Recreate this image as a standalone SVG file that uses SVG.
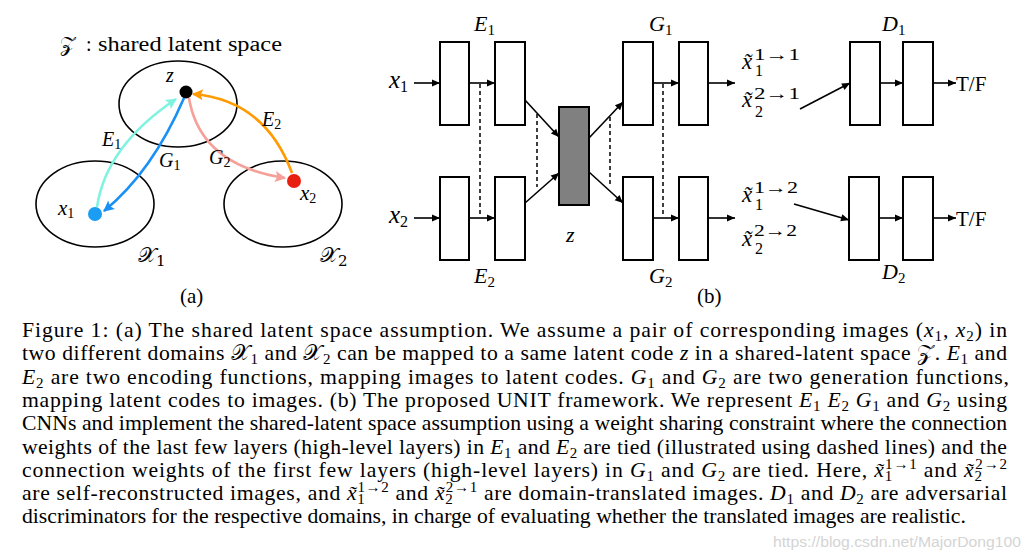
<svg xmlns="http://www.w3.org/2000/svg" width="1032" height="560" viewBox="0 0 1032 560">
<style>
text{font-family:"Liberation Serif","DejaVu Serif",serif;fill:#000}
.i{font-style:italic}
.n{font-style:normal}
.cal{font-family:"DejaVu Serif","DejaVu Sans","Liberation Serif",serif;font-style:normal}
.box{fill:#fff;stroke:#000;stroke-width:2}
.ln{fill:none;stroke:#000;stroke-width:1.6}
.dash{fill:none;stroke:#000;stroke-width:1.5;stroke-dasharray:4 3}
.ell{fill:none;stroke:#000;stroke-width:1.6}
.cap{font-size:21.7px}
</style>
<defs>
<marker id="ah" viewBox="0 0 10 10" refX="10" refY="5" markerWidth="9" markerHeight="8" markerUnits="userSpaceOnUse" orient="auto"><path d="M0,0.5 L10,5 L0,9.5 z" fill="#000"/></marker>
<marker id="aCy" viewBox="0 0 10 10" refX="9" refY="5" markerWidth="12" markerHeight="11" markerUnits="userSpaceOnUse" orient="auto"><path d="M0,0 L10,5 L0,10 L2,5 z" fill="#7ff3e0"/></marker>
<marker id="aBl" viewBox="0 0 10 10" refX="9" refY="5" markerWidth="12" markerHeight="11" markerUnits="userSpaceOnUse" orient="auto"><path d="M0,0 L10,5 L0,10 L2,5 z" fill="#1890f5"/></marker>
<marker id="aSa" viewBox="0 0 10 10" refX="9" refY="5" markerWidth="12" markerHeight="11" markerUnits="userSpaceOnUse" orient="auto"><path d="M0,0 L10,5 L0,10 L2,5 z" fill="#f5a098"/></marker>
<marker id="aOr" viewBox="0 0 10 10" refX="9" refY="5" markerWidth="12" markerHeight="11" markerUnits="userSpaceOnUse" orient="auto"><path d="M0,0 L10,5 L0,10 L2,5 z" fill="#ff9a00"/></marker>
</defs>

<!-- Part (a) -->
<g id="a-title"><text x="60" y="51" font-size="20"><tspan class="cal">𝒵</tspan><tspan x="86">:</tspan><tspan x="98" textLength="184" lengthAdjust="spacingAndGlyphs">shared latent space</tspan></text></g>
<g id="space-Z"><ellipse class="ell" cx="178" cy="104" rx="59" ry="43"/></g>
<g id="space-X1"><ellipse class="ell" cx="95" cy="204" rx="59" ry="43"/><text x="138" y="262" font-size="21" class="cal">𝒳<tspan font-size="15" dy="4">1</tspan></text></g>
<g id="space-X2"><ellipse class="ell" cx="283" cy="204" rx="59" ry="43"/><text x="320" y="262" font-size="21" class="cal">𝒳<tspan font-size="15" dy="4">2</tspan></text></g>
<g id="a-connectors">
<path d="M97,207 Q106,146 176,99" fill="none" stroke="#7ff3e0" stroke-width="2.6" marker-end="url(#aCy)"/>
<path d="M184,98 Q152,172 104,211" fill="none" stroke="#1890f5" stroke-width="2.6" marker-end="url(#aBl)"/>
<path d="M189,98 Q200,165 285,178" fill="none" stroke="#f5a098" stroke-width="2.6" marker-end="url(#aSa)"/>
<path d="M292,173 Q265,100 193,94" fill="none" stroke="#ff9a00" stroke-width="2.6" marker-end="url(#aOr)"/>
</g>
<g id="node-z"><circle cx="186" cy="92" r="6.5" fill="#000"/><text x="166" y="82" font-size="20" class="i">z</text></g>
<g id="node-x1"><circle cx="95" cy="214" r="7" fill="#1a9df2"/><text x="58" y="215" font-size="21" class="i">x<tspan font-size="14" dy="3" class="n">1</tspan></text></g>
<g id="node-x2"><circle cx="294" cy="181" r="7" fill="#e82010"/><text x="300" y="200" font-size="21" class="i">x<tspan font-size="14" dy="3" class="n">2</tspan></text></g>
<g id="a-labels">
<text x="102" y="146" font-size="20" class="i">E<tspan font-size="14" dy="3" class="n">1</tspan></text>
<text x="159" y="167" font-size="20" class="i">G<tspan font-size="14" dy="3" class="n">1</tspan></text>
<text x="209" y="164" font-size="20" class="i">G<tspan font-size="14" dy="3" class="n">2</tspan></text>
<text x="262" y="126" font-size="20" class="i">E<tspan font-size="14" dy="3" class="n">2</tspan></text>
<text x="180" y="303" font-size="21">(a)</text>
</g>

<!-- Part (b) -->
<g id="E1-l1"><rect class="box" x="440" y="42" width="29" height="83"/></g>
<g id="E1-l2"><rect class="box" x="495" y="42" width="30" height="83"/></g>
<g id="E2-l1"><rect class="box" x="440" y="177" width="29" height="83"/></g>
<g id="E2-l2"><rect class="box" x="495" y="177" width="30" height="83"/></g>
<g id="z-code"><rect x="559" y="107" width="30" height="98" fill="#808080" stroke="#000" stroke-width="2"/><text x="566" y="242" font-size="22" class="i">z</text></g>
<g id="G1-l1"><rect class="box" x="623" y="42" width="30" height="83"/></g>
<g id="G1-l2"><rect class="box" x="679" y="42" width="29" height="83"/></g>
<g id="G2-l1"><rect class="box" x="623" y="177" width="30" height="83"/></g>
<g id="G2-l2"><rect class="box" x="679" y="177" width="29" height="83"/></g>
<g id="D1-l1"><rect class="box" x="850" y="42" width="30" height="83"/></g>
<g id="D1-l2"><rect class="box" x="903" y="42" width="30" height="83"/></g>
<g id="D2-l1"><rect class="box" x="849" y="177" width="30" height="83"/></g>
<g id="D2-l2"><rect class="box" x="903" y="177" width="30" height="83"/></g>

<g id="b-connectors">
<line class="ln" x1="414" y1="83" x2="440" y2="83" marker-end="url(#ah)"/>
<line class="ln" x1="414" y1="218" x2="440" y2="218" marker-end="url(#ah)"/>
<line class="ln" x1="469" y1="83" x2="495" y2="83" marker-end="url(#ah)"/>
<line class="ln" x1="469" y1="218" x2="495" y2="218" marker-end="url(#ah)"/>
<line class="ln" x1="525" y1="100" x2="559" y2="137" marker-end="url(#ah)"/>
<line class="ln" x1="525" y1="203" x2="559" y2="173" marker-end="url(#ah)"/>
<line class="ln" x1="589" y1="138" x2="623" y2="102" marker-end="url(#ah)"/>
<line class="ln" x1="589" y1="172" x2="623" y2="203" marker-end="url(#ah)"/>
<line class="ln" x1="653" y1="83" x2="679" y2="83" marker-end="url(#ah)"/>
<line class="ln" x1="653" y1="218" x2="679" y2="218" marker-end="url(#ah)"/>
<line class="ln" x1="708" y1="83" x2="735" y2="83" marker-end="url(#ah)"/>
<line class="ln" x1="708" y1="218" x2="735" y2="218" marker-end="url(#ah)"/>
<line class="ln" x1="800" y1="109" x2="850" y2="83" marker-end="url(#ah)"/>
<line class="ln" x1="794" y1="204" x2="849" y2="220" marker-end="url(#ah)"/>
<line class="ln" x1="880" y1="83" x2="903" y2="83" marker-end="url(#ah)"/>
<line class="ln" x1="879" y1="218" x2="903" y2="218" marker-end="url(#ah)"/>
<line class="ln" x1="933" y1="83" x2="956" y2="83" marker-end="url(#ah)"/>
<line class="ln" x1="933" y1="218" x2="956" y2="218" marker-end="url(#ah)"/>
<line class="dash" x1="480" y1="84" x2="480" y2="217"/>
<line class="dash" x1="537" y1="114" x2="537" y2="187"/>
<line class="dash" x1="610" y1="117" x2="610" y2="187"/>
<line class="dash" x1="663" y1="84" x2="663" y2="217"/>
</g>

<g id="b-labels">
<text x="389" y="88" font-size="25" class="i">x<tspan font-size="16" dy="4" class="n">1</tspan></text>
<text x="389" y="223" font-size="25" class="i">x<tspan font-size="16" dy="4" class="n">2</tspan></text>
<text x="474" y="31" font-size="22" class="i">E<tspan font-size="15" dy="4" class="n">1</tspan></text>
<text x="474" y="283" font-size="22" class="i">E<tspan font-size="15" dy="4" class="n">2</tspan></text>
<text x="649" y="31" font-size="22" class="i">G<tspan font-size="15" dy="4" class="n">1</tspan></text>
<text x="649" y="283" font-size="22" class="i">G<tspan font-size="15" dy="4" class="n">2</tspan></text>
<text x="882" y="31" font-size="22" class="i">D<tspan font-size="15" dy="4" class="n">1</tspan></text>
<text x="882" y="279" font-size="22" class="i">D<tspan font-size="15" dy="4" class="n">2</tspan></text>
<text x="956" y="91" font-size="21">T/F</text>
<text x="956" y="226" font-size="21">T/F</text>
<text x="742" y="69" font-size="23" class="i">x̃</text>
<text x="754" y="60" font-size="16" textLength="46" lengthAdjust="spacingAndGlyphs">1→1</text>
<text x="755" y="76" font-size="16">1</text>
<text x="742" y="107" font-size="23" class="i">x̃</text>
<text x="754" y="99" font-size="16" textLength="46" lengthAdjust="spacingAndGlyphs">2→1</text>
<text x="755" y="117" font-size="16">2</text>
<text x="742" y="202" font-size="23" class="i">x̃</text>
<text x="754" y="193" font-size="16" textLength="44" lengthAdjust="spacingAndGlyphs">1→2</text>
<text x="755" y="210" font-size="16">1</text>
<text x="742" y="246" font-size="23" class="i">x̃</text>
<text x="754" y="236" font-size="16" textLength="43" lengthAdjust="spacingAndGlyphs">2→2</text>
<text x="755" y="254" font-size="16">2</text>
<text x="697" y="303" font-size="21">(b)</text>
</g>

<!-- Caption -->
<g id="caption" class="cap">
<text x="22" y="337" textLength="985" lengthAdjust="spacing">Figure 1:  (a) The shared latent space assumption.  We assume a pair of corresponding images (<tspan class="i">x</tspan><tspan font-size="15" dy="3.5">1</tspan><tspan dy="-3.5">, </tspan><tspan class="i">x</tspan><tspan font-size="15" dy="3.5">2</tspan><tspan dy="-3.5">) in</tspan></text>
<text x="22" y="360" textLength="985" lengthAdjust="spacing">two different domains <tspan class="cal">𝒳</tspan><tspan font-size="15" dy="3.5">1</tspan><tspan dy="-3.5"> and </tspan><tspan class="cal">𝒳</tspan><tspan font-size="15" dy="3.5">2</tspan><tspan dy="-3.5"> can be mapped to a same latent code </tspan><tspan class="i">z</tspan> in a shared-latent space <tspan class="cal">𝒵</tspan>. <tspan class="i">E</tspan><tspan font-size="15" dy="3.5">1</tspan><tspan dy="-3.5"> and</tspan></text>
<text x="22" y="384" textLength="987" lengthAdjust="spacing"><tspan class="i">E</tspan><tspan font-size="15" dy="3.5">2</tspan><tspan dy="-3.5"> are two encoding functions, mapping images to latent codes.  </tspan><tspan class="i">G</tspan><tspan font-size="15" dy="3.5">1</tspan><tspan dy="-3.5"> and </tspan><tspan class="i">G</tspan><tspan font-size="15" dy="3.5">2</tspan><tspan dy="-3.5"> are two generation functions,</tspan></text>
<text x="22" y="407" textLength="985" lengthAdjust="spacing">mapping latent codes to images. (b) The proposed UNIT framework. We represent <tspan class="i">E</tspan><tspan font-size="15" dy="3.5">1</tspan><tspan dy="-3.5"> </tspan><tspan class="i">E</tspan><tspan font-size="15" dy="3.5">2</tspan><tspan dy="-3.5"> </tspan><tspan class="i">G</tspan><tspan font-size="15" dy="3.5">1</tspan><tspan dy="-3.5"> and </tspan><tspan class="i">G</tspan><tspan font-size="15" dy="3.5">2</tspan><tspan dy="-3.5"> using</tspan></text>
<text x="22" y="430" textLength="985" lengthAdjust="spacing">CNNs and implement the shared-latent space assumption using a weight sharing constraint where the connection</text>
<text x="22" y="454" textLength="985" lengthAdjust="spacing">weights of the last few layers (high-level layers) in <tspan class="i">E</tspan><tspan font-size="15" dy="3.5">1</tspan><tspan dy="-3.5"> and </tspan><tspan class="i">E</tspan><tspan font-size="15" dy="3.5">2</tspan><tspan dy="-3.5"> are tied (illustrated using dashed lines) and the</tspan></text>
<text x="22" y="477" textLength="985" lengthAdjust="spacing">connection weights of the first few layers (high-level layers) in <tspan class="i">G</tspan><tspan font-size="15" dy="3.5">1</tspan><tspan dy="-3.5"> and </tspan><tspan class="i">G</tspan><tspan font-size="15" dy="3.5">2</tspan><tspan dy="-3.5"> are tied.  Here, </tspan><tspan class="i">x̃</tspan><tspan font-size="15" dy="3.5">1</tspan><tspan font-size="15" dx="-7.5" dy="-12">1→1</tspan><tspan dy="8.5"> and </tspan><tspan class="i">x̃</tspan><tspan font-size="15" dy="3.5">2</tspan><tspan font-size="15" dx="-7.5" dy="-12">2→2</tspan></text>
<text x="22" y="500" textLength="985" lengthAdjust="spacing">are self-reconstructed images, and <tspan class="i">x̃</tspan><tspan font-size="15" dy="3.5">1</tspan><tspan font-size="15" dx="-7.5" dy="-12">1→2</tspan><tspan dy="8.5"> and </tspan><tspan class="i">x̃</tspan><tspan font-size="15" dy="3.5">2</tspan><tspan font-size="15" dx="-7.5" dy="-12">2→1</tspan><tspan dy="8.5"> are domain-translated images. </tspan><tspan class="i">D</tspan><tspan font-size="15" dy="3.5">1</tspan><tspan dy="-3.5"> and </tspan><tspan class="i">D</tspan><tspan font-size="15" dy="3.5">2</tspan><tspan dy="-3.5"> are adversarial</tspan></text>
<text x="22" y="523">discriminators for the respective domains, in charge of evaluating whether the translated images are realistic.</text>
</g>
<g id="watermark"><text x="773" y="547" font-size="15.5" textLength="248" lengthAdjust="spacingAndGlyphs" style="font-family:'Liberation Sans',sans-serif;fill:#d4d4d4">https://blog.csdn.net/MajorDong100</text></g>
</svg>
